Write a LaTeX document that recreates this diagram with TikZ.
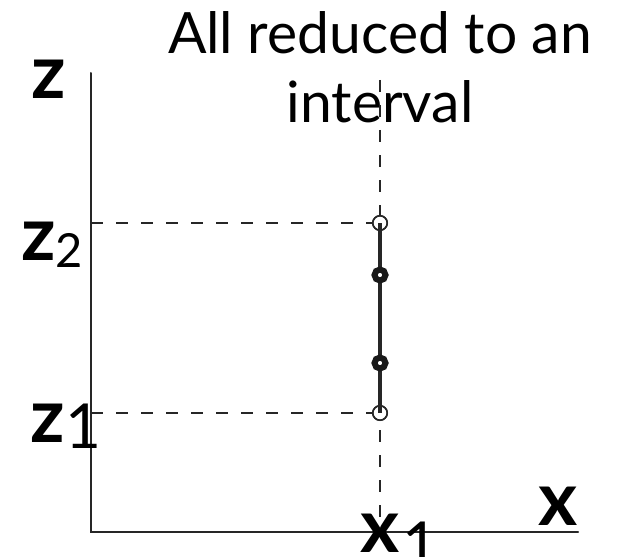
\documentclass[tikz,border=0pt]{standalone}
\usepackage{fontspec}
\setmainfont{Lato}
\usetikzlibrary{positioning}

\begin{document}
\begin{tikzpicture}[x=1pt, y=-1pt,
  axis/.style={line width=2pt, draw=black!85, line cap=round},
  guide/.style={line width=1.5pt, draw=black!85, dash pattern=on 12pt off 13pt},
  openpt/.style={circle, draw=black!85, line width=1.5pt, fill=white, minimum size=14.5pt, inner sep=0pt},
  ringpt/.style={circle, draw=black!90, line width=6pt, fill=white, minimum size=11pt, inner sep=0pt},
  lab/.style={inner sep=0pt, anchor=base west, font=\fontsize{75}{75}\selectfont\bfseries},
  sub/.style={inner sep=0pt, anchor=base west, font=\fontsize{47}{47}\selectfont}]
\useasboundingbox (0,0) rectangle (617,556);
% axes
\coordinate (origin) at (91,532);
\coordinate (ztop) at (91,73);
\coordinate (xend) at (578,532);
\draw[axis] (ztop) -- (origin) -- (xend);
% title
\node[inner sep=0pt, anchor=base, align=center, font=\fontsize{57}{69}\selectfont] (title) at (380,123)
  {All reduced to an\\interval};
% interval end points and guides
\coordinate (z2ax) at (91,223);
\coordinate (z1ax) at (91,413);
\coordinate (x1top) at (380,80);
\coordinate (x1ax) at (380,524);
\draw[guide] (x1top) -- (x1ax);
\node[openpt] (z2pt) at (380,223) {};
\node[openpt] (z1pt) at (380,413) {};
\draw[guide] (z2ax) -- (z2pt);
\draw[guide] (z1ax) -- (z1pt);
\draw[line width=4pt, black!85] (z2pt.center) -- (z1pt.center);
\node[openpt, fill=none] at (z2pt) {};
\node[openpt, fill=none] at (z1pt) {};
\node[ringpt] (upper) at (380,275) {};
\node[ringpt] (lower) at (380,363) {};
% labels
\node[lab] (zlab) at (31,99) {z};
\node[lab] (xlab) at (538,525) {x};
\node[lab] (z2lab) at (21,260) {z};
\node[sub] (z2sub) at (55,267) {2};
\node[lab] (z1lab) at (30,442) {z};
\node[sub, font=\fontsize{62}{62}\selectfont, anchor=base] (z1sub) at (83,448) {1};
\node[lab] (x1lab) at (360,552) {x};
\node[sub, font=\fontsize{62}{62}\selectfont, anchor=base] (x1sub) at (420,566) {1};
\end{tikzpicture}
\end{document}
